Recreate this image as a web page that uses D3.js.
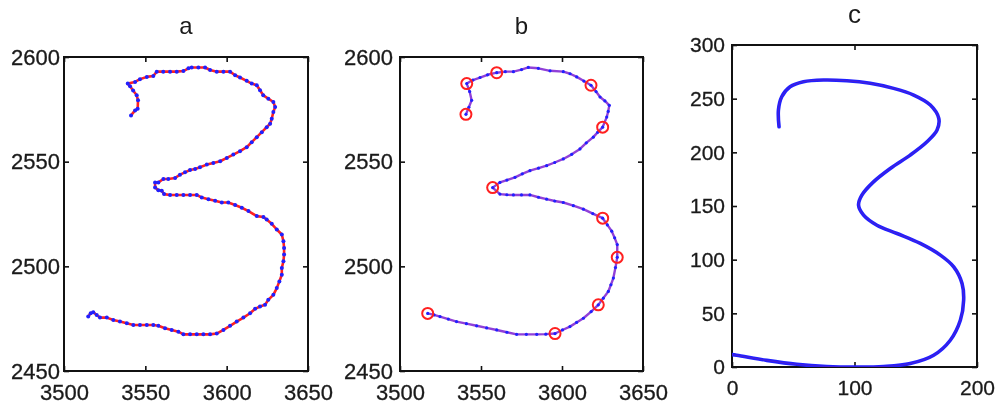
<!DOCTYPE html>
<html>
<head>
<meta charset="utf-8">
<script src="https://cdn.jsdelivr.net/npm/d3@7"></script>
<style>
  body { margin: 0; background: #fff; }
  svg { display: block; filter: blur(0.45px); }
  text { font-family: "Liberation Sans", Arial, sans-serif; fill: #1a1a1a; }
</style>
</head>
<body>
<svg id="chart" width="999" height="408"></svg>
<script>
// raw trace of the digit (panel a), [x, y]
const rawTrace = [[3541.2,2572.1],[3543.7,2574.5],[3545.3,2575.3],[3545.5,2579.3],[3544.7,2581.7],[3542.5,2584],[3540.6,2586],[3539.2,2587.3],[3543.7,2588.1],[3546.7,2589.4],[3550.9,2590.5],[3554.9,2590.9],[3557,2593],[3561,2593],[3565.2,2593],[3569.3,2593],[3573.4,2593.3],[3576.5,2594.6],[3578.5,2595],[3582.6,2595],[3586.7,2595],[3589.8,2593.8],[3593.9,2593],[3598,2593],[3602.1,2593],[3605.2,2591.3],[3608.2,2590.2],[3612.3,2588.6],[3615.4,2587.3],[3618.5,2586.5],[3620.5,2584.1],[3622.5,2581.7],[3625.6,2580.1],[3628.7,2578.5],[3629.8,2576.1],[3628.7,2573.7],[3627.7,2570.5],[3626.7,2568.1],[3624.6,2566.5],[3621.6,2564.1],[3618.5,2561.7],[3615.4,2559.3],[3612.3,2556.9],[3608.2,2555],[3604.1,2553.4],[3600.1,2551.8],[3596,2550.2],[3591.8,2549.4],[3587.8,2548.6],[3583.6,2547.3],[3580.6,2546.5],[3577.5,2546],[3574.4,2544.9],[3571.3,2543.8],[3568.3,2542.2],[3564.1,2541.7],[3561.1,2541.7],[3558,2540.1],[3556,2540.1],[3556,2537.7],[3558,2536.4],[3560.1,2536.1],[3561.5,2534.5],[3565.2,2534.1],[3569.3,2534.1],[3573.4,2534.1],[3577.5,2534.1],[3581.6,2534.1],[3584.7,2532.9],[3588.8,2532.1],[3592.9,2531.3],[3597,2530.5],[3601,2530.5],[3605.2,2529.3],[3609.3,2528],[3613.4,2526.4],[3618.5,2524],[3622.6,2523.6],[3624.6,2522.4],[3627.7,2520.3],[3630.8,2517.6],[3633.9,2515.2],[3634.9,2512],[3635.3,2508.8],[3635.3,2505.6],[3634.9,2502.4],[3633.9,2499.2],[3633.9,2496],[3632.4,2492.8],[3630.8,2489.6],[3628.7,2486.4],[3625.6,2484],[3623.6,2481.6],[3620.5,2480.8],[3617.5,2479.7],[3614.4,2477.6],[3610.3,2475.5],[3606.2,2473.6],[3602.1,2471.6],[3598,2469.6],[3593.9,2467.9],[3589.8,2467.5],[3585.7,2467.5],[3581.6,2467.5],[3577.5,2467.5],[3573.4,2467.5],[3570.3,2468.8],[3566.2,2469.6],[3562.1,2470.4],[3558,2471.6],[3554.9,2472],[3550.9,2472],[3546.7,2472],[3542.6,2472],[3538.6,2472.8],[3534.4,2473.6],[3530.3,2474.4],[3526.3,2475.5],[3522.1,2475.5],[3520.1,2476.8],[3518,2478.1],[3516.4,2477.6],[3514.9,2476]];

// smoothed trace (panel b)
const smoothTrace = [[3540.7,2572.6],[3542.5,2576],[3544.2,2579.3],[3543,2583.5],[3541.2,2587.3],[3545,2589],[3549.4,2590.2],[3554,2591.5],[3559.7,2592.5],[3565,2593],[3570,2593],[3575,2594],[3579.2,2595],[3585.4,2594.6],[3592.6,2593.4],[3600.8,2593],[3605,2592],[3609.1,2590.5],[3613.5,2588.5],[3617.9,2586.5],[3621,2583.5],[3623.5,2580.9],[3626.5,2579],[3629.2,2576.9],[3628.5,2574],[3627.6,2571.3],[3625.1,2566.5],[3622,2564],[3619.3,2561.7],[3615,2559],[3611.1,2556.1],[3606,2553.5],[3600.8,2551.3],[3595.5,2549.6],[3590.5,2548.1],[3585.5,2546.9],[3580.2,2545.7],[3575.5,2544.2],[3571,2542.5],[3566,2541.2],[3561.7,2540.1],[3557.2,2537.6],[3561.7,2534.5],[3566,2534.2],[3570,2534.1],[3575,2534.1],[3580.2,2534.1],[3585.5,2533],[3590.5,2532.1],[3595.5,2531.2],[3600.8,2530.5],[3607,2529],[3613.2,2527.3],[3619,2525.2],[3625.1,2523],[3628,2519.8],[3630.7,2516.8],[3632.5,2513.6],[3634.1,2510.4],[3634.1,2504.3],[3633,2499.4],[3631.7,2494.4],[3630.2,2491.2],[3628.6,2488],[3625.5,2484.8],[3622.4,2481.6],[3618,2478.4],[3613.2,2475.2],[3609,2473.2],[3604.9,2471.2],[3600.3,2469.6],[3595.7,2467.9],[3590,2467.6],[3584.4,2467.5],[3578,2467.5],[3572,2467.5],[3566,2468.5],[3559.7,2469.6],[3553.5,2470.6],[3547.3,2471.6],[3541,2472.6],[3534.9,2473.6],[3529.8,2474.8],[3524.7,2476],[3521,2476.8],[3517.1,2477.5]];

// key points circled in panel b
const keyPoints = [[3540.7,2572.6],[3541.2,2587.3],[3559.7,2592.5],[3617.9,2586.5],[3625.1,2566.5],[3557.2,2537.6],[3625.1,2523],[3634.1,2504.3],[3622.4,2481.6],[3595.7,2467.9],[3517.1,2477.5]];

// normalised curve (panel c)
const normCurve = [[38.4,223.8],[37.9,239.4],[40.6,251.8],[47.4,261.1],[58.3,265.8],[74.7,267.4],[93.8,266.7],[112.8,264.3],[131.9,259.6],[148.3,253.4],[161.9,244.1],[168.8,231.7],[167.4,220.7],[159.2,209.8],[145.5,197.4],[129.2,185],[115.5,172.5],[106,160.1],[103.3,150.8],[107.4,141.5],[118.3,132.1],[134.7,124.4],[153.7,115.1],[170.1,104.2],[181,93.3],[187.8,77.8],[189.1,62.2],[186.4,43.5],[178.2,24.9],[164.6,10.9],[145.5,3.2],[123.7,0.5],[101.9,0],[77.4,0.5],[52.9,2.5],[28.4,6.2],[3.8,10.9],[-3,12]];

const abXTicks = [3500, 3550, 3600, 3650];
const abYTicks = [2450, 2500, 2550, 2600];
const cXTicks = [0, 100, 200];
const cYTicks = [0, 50, 100, 150, 200, 250, 300];
const titles = ['a', 'b', 'c'];

const svg = d3.select('#chart');

function panel(opt) {
  const x = d3.scaleLinear().domain(opt.xDomain).range([opt.left, opt.right]);
  const y = d3.scaleLinear().domain(opt.yDomain).range([opt.bottom, opt.top]);
  const g = svg.append('g');

  g.append('clipPath').attr('id', opt.id)
    .append('rect')
    .attr('x', opt.left).attr('y', opt.top)
    .attr('width', opt.right - opt.left).attr('height', opt.bottom - opt.top);

  // inward ticks on all four sides
  const ax = [
    [d3.axisBottom(x).tickValues(opt.xTicks), opt.bottom, 'x', true],
    [d3.axisTop(x).tickValues(opt.xTicks), opt.top, 'x', false],
    [d3.axisLeft(y).tickValues(opt.yTicks), opt.left, 'y', true],
    [d3.axisRight(y).tickValues(opt.yTicks), opt.right, 'y', false]
  ];
  ax.forEach(([axis, pos, dim, labels]) => {
    axis.tickSizeInner(-5).tickSizeOuter(0).tickFormat(labels ? d3.format('d') : '');
    const a = g.append('g')
      .attr('transform', dim === 'x' ? `translate(0,${pos})` : `translate(${pos},0)`)
      .call(axis);
    a.select('.domain').remove();
    a.selectAll('line').attr('stroke', '#111').attr('stroke-width', 1.6);
    a.selectAll('text')
      .style('font-size', opt.fontSize + 'px')
      .attr('fill', '#1a1a1a')
      .attr('stroke', '#1a1a1a').attr('stroke-width', 0.3);
    if (dim === 'x') a.selectAll('text').attr('y', 9).attr('dy', '0.9em');
    else a.selectAll('text').attr('x', opt.labelGap);
  });

  g.append('rect')
    .attr('x', opt.left).attr('y', opt.top)
    .attr('width', opt.right - opt.left).attr('height', opt.bottom - opt.top)
    .attr('fill', 'none').attr('stroke', '#111').attr('stroke-width', 2);

  g.append('text')
    .attr('x', (opt.left + opt.right) / 2).attr('y', opt.titleY)
    .attr('text-anchor', 'middle')
    .style('font-size', opt.titleSize + 'px')
    .text(opt.title);

  const plot = g.append('g').attr('clip-path', `url(#${opt.id})`);
  return { x, y, plot };
}

// panel a
const pa = panel({ id: 'ca', left: 64, right: 308, top: 57, bottom: 371,
  xDomain: [3500, 3650], yDomain: [2450, 2600], xTicks: abXTicks, yTicks: abYTicks,
  fontSize: 22, labelGap: -4, title: titles[0], titleY: 34, titleSize: 24 });
const lineA = d3.line().x(d => pa.x(d[0])).y(d => pa.y(d[1]));
pa.plot.append('path').datum(rawTrace)
  .attr('d', lineA).attr('fill', 'none').attr('stroke', '#ff2020').attr('stroke-width', 2.6)
  .attr('stroke-linejoin', 'round');
pa.plot.selectAll('.dot').data(rawTrace).enter().append('circle')
  .attr('cx', d => pa.x(d[0])).attr('cy', d => pa.y(d[1]))
  .attr('r', 2).attr('fill', '#2020ff');

// panel b
const pb = panel({ id: 'cb', left: 400, right: 643, top: 57, bottom: 371,
  xDomain: [3500, 3650], yDomain: [2450, 2600], xTicks: abXTicks, yTicks: abYTicks,
  fontSize: 22, labelGap: -7, title: titles[1], titleY: 34, titleSize: 24 });
const lineB = d3.line().x(d => pb.x(d[0])).y(d => pb.y(d[1]));
pb.plot.append('path').datum(smoothTrace)
  .attr('d', lineB).attr('fill', 'none').attr('stroke', '#9040d8').attr('stroke-width', 2.4)
  .attr('stroke-linejoin', 'round');
pb.plot.selectAll('.dot').data(smoothTrace).enter().append('circle')
  .attr('cx', d => pb.x(d[0])).attr('cy', d => pb.y(d[1]))
  .attr('r', 1.6).attr('fill', '#2020ff');
pb.plot.selectAll('.key').data(keyPoints).enter().append('circle')
  .attr('cx', d => pb.x(d[0])).attr('cy', d => pb.y(d[1]))
  .attr('r', 5.5).attr('fill', 'none').attr('stroke', '#ff2020').attr('stroke-width', 2);

// panel c
const pc = panel({ id: 'cc', left: 732, right: 977, top: 45, bottom: 367,
  xDomain: [0, 200], yDomain: [0, 300], xTicks: cXTicks, yTicks: cYTicks,
  fontSize: 21, labelGap: -7, title: titles[2], titleY: 23, titleSize: 26 });
const lineC = d3.line().x(d => pc.x(d[0])).y(d => pc.y(d[1])).curve(d3.curveCatmullRom);
pc.plot.append('path').datum(normCurve)
  .attr('d', lineC).attr('fill', 'none').attr('stroke', '#2020ff').attr('stroke-width', 3.6)
  .attr('stroke-linecap', 'round');
pc.plot.append('path').datum(normCurve)
  .attr('d', lineC).attr('fill', 'none').attr('stroke', '#ff2020').attr('stroke-width', 0.8)
  .attr('stroke-opacity', 0.25);
</script>
</body>
</html>
